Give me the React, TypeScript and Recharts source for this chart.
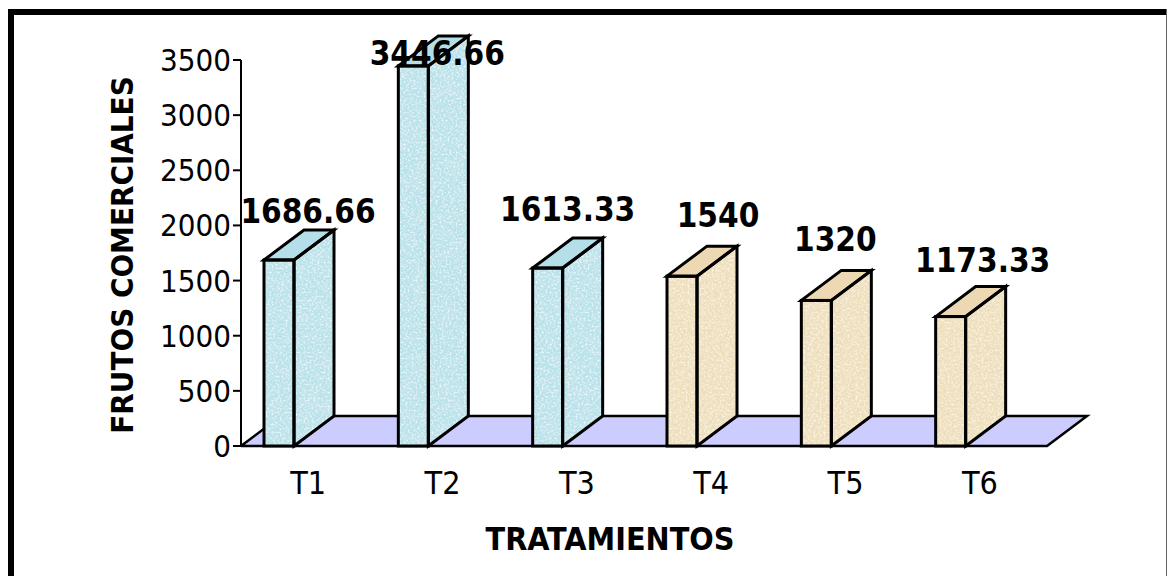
import React from "react";
import { BarChart, Bar, XAxis, YAxis, ReferenceArea, LabelList } from "recharts";

const categories = ["T1", "T2", "T3", "T4", "T5", "T6"];
const values = [1686.66, 3446.66, 1613.33, 1540, 1320, 1173.33];
const valueLabels = ["1686.66", "3446.66", "1613.33", "1540", "1320", "1173.33"];
const yTicks = [0, 500, 1000, 1500, 2000, 2500, 3000, 3500];
const palette = ["blue", "blue", "blue", "sand", "sand", "sand"];
const labelShiftX = [0, -5, -9, 7, -10, 3];
const labelGap = [48, 12, 58, 60, 60, 56];

const data = categories.map((name, i) => ({ name, value: values[i], label: valueLabels[i], tone: palette[i], i }));

const DX = 40;
const DY = 30;
const SHIFT = -29;
const FONT = "'DejaVu Sans Condensed', 'DejaVu Sans', sans-serif";

const Prism = (props: any) => {
  const { x, y, width, height, payload } = props;
  const l = x + SHIFT;
  const r = l + width;
  const b = y + height;
  const t = payload.tone;
  const base = t === "blue" ? "#b8e1e9" : "#f0e0bd";
  const sidePts = `${r},${b} ${r + DX},${b - DY} ${r + DX},${y - DY} ${r},${y}`;
  const topPts = `${l},${y} ${l + DX},${y - DY} ${r + DX},${y - DY} ${r},${y}`;
  const line = { fill: "none", stroke: "#000", strokeWidth: 3, strokeLinejoin: "miter" as const };
  return (
    <g>
      <polygon points={sidePts} fill={base} filter={`url(#side-${t})`} />
      <polygon points={topPts} fill={t === "blue" ? "#b4dfe8" : "#ecd9b4"} />
      <rect x={l} y={y} width={width} height={height} fill={base} filter={`url(#face-${t})`} />
      <polygon points={sidePts} {...line} />
      <polygon points={topPts} {...line} />
      <rect x={l} y={y} width={width} height={height} {...line} />
    </g>
  );
};

const Floor = (props: any) => {
  const { x, y, width, height } = props;
  const b = y + height;
  return (
    <g>
      <polygon points={`${x},${b} ${x + DX},${y} ${x + width + DX},${y} ${x + width},${b}`} fill="#ccccff" stroke="none" />
      <polyline points={`${x},${b} ${x + DX},${y} ${x + width + DX},${y} ${x + width},${b} ${x},${b}`} fill="none" stroke="#000" strokeWidth={2.5} />
    </g>
  );
};

const ValueLabel = (props: any) => {
  const { x, y, value, index } = props;
  return (
    <text x={x + 15 + labelShiftX[index]} y={y - labelGap[index] + 11} textAnchor="middle" fontFamily={FONT} fontWeight={700} fontSize={33} fill="#000">
      {value}
    </text>
  );
};

const texture = (id: string, freq: string, seed: number, dark: string, light: string) => (
  <filter id={id} x="0" y="0" width="100%" height="100%">
    <feTurbulence type="fractalNoise" baseFrequency={freq} numOctaves={2} seed={seed} result="n" />
    <feColorMatrix in="n" type="matrix" values={dark} result="c" />
    <feComposite in="c" in2="SourceAlpha" operator="in" result="tex" />
    <feTurbulence type="fractalNoise" baseFrequency="0.5" numOctaves={2} seed={seed + 1} result="m" />
    <feColorMatrix in="m" type="matrix" values={light} result="d" />
    <feComposite in="d" in2="SourceAlpha" operator="in" result="speck" />
    <feMerge>
      <feMergeNode in="SourceGraphic" />
      <feMergeNode in="tex" />
      <feMergeNode in="speck" />
    </feMerge>
  </filter>
);

const blueDark = "0 0 0 0 0.53  0 0 0 0 0.76  0 0 0 0 0.82  0 4.5 0 0 -2";
const sandDark = "0 0 0 0 0.82  0 0 0 0 0.71  0 0 0 0 0.52  0 3.5 0 0 -1.5";
const blueLight = "0 0 0 0 0.86  0 0 0 0 0.96  0 0 0 0 0.98  0 2.5 0 0 -1.1";
const sandLight = "0 0 0 0 0.98  0 0 0 0 0.94  0 0 0 0 0.8  0 2.5 0 0 -1.1";

export default function App() {
  return (
    <div style={{ position: "absolute", left: 0, top: 0, width: 1167, height: 576, background: "#fff", overflow: "hidden" }}>
      <div style={{ position: "absolute", left: 8, top: 9, width: 1158, height: 600, borderLeft: "6px solid #000", borderTop: "6px solid #000", boxSizing: "border-box" }} />
      <div style={{ position: "absolute", left: 1166, top: 9, width: 1, height: 567, background: "#666" }} />
      <BarChart width={1167} height={576} data={data} margin={{ top: 60, right: 120, bottom: 70, left: 0 }} style={{ position: "absolute", left: 0, top: 0 }}>
        <defs>
          {texture("face-blue", "0.09", 3, blueDark, blueLight)}
          {texture("side-blue", "0.05 0.08", 8, blueDark, blueLight)}
          {texture("face-sand", "0.3", 5, sandDark, sandLight)}
          {texture("side-sand", "0.2", 11, sandDark, sandLight)}
        </defs>
        <ReferenceArea y1={0} y2={272} shape={<Floor />} ifOverflow="visible" />
        <XAxis
          dataKey="name"
          axisLine={false}
          tickLine={false}
          tick={{ fontFamily: FONT, fontSize: 32, fill: "#000" }}
          tickMargin={19}
          height={60}
          label={{ value: "TRATAMIENTOS", position: "insideBottom", offset: -44, dx: -34, fontFamily: FONT, fontWeight: 700, fontSize: 32, fill: "#000" }}
        />
        <YAxis
          width={241}
          domain={[0, 3500]}
          ticks={yTicks}
          interval={0}
          axisLine={{ stroke: "#000", strokeWidth: 2 }}
          tickLine={{ stroke: "#000", strokeWidth: 2 }}
          tickSize={8}
          tick={{ fontFamily: FONT, fontSize: 31, fill: "#000" }}
        />
        <Bar dataKey="value" barSize={30} shape={<Prism />} isAnimationActive={false}>
          <LabelList dataKey="label" content={<ValueLabel />} />
        </Bar>
        <text x={133} y={255} transform="rotate(-90 133 255)" textAnchor="middle" fontFamily={FONT} fontWeight={700} fontSize={31} fill="#000">
          FRUTOS COMERCIALES
        </text>
      </BarChart>
    </div>
  );
}
